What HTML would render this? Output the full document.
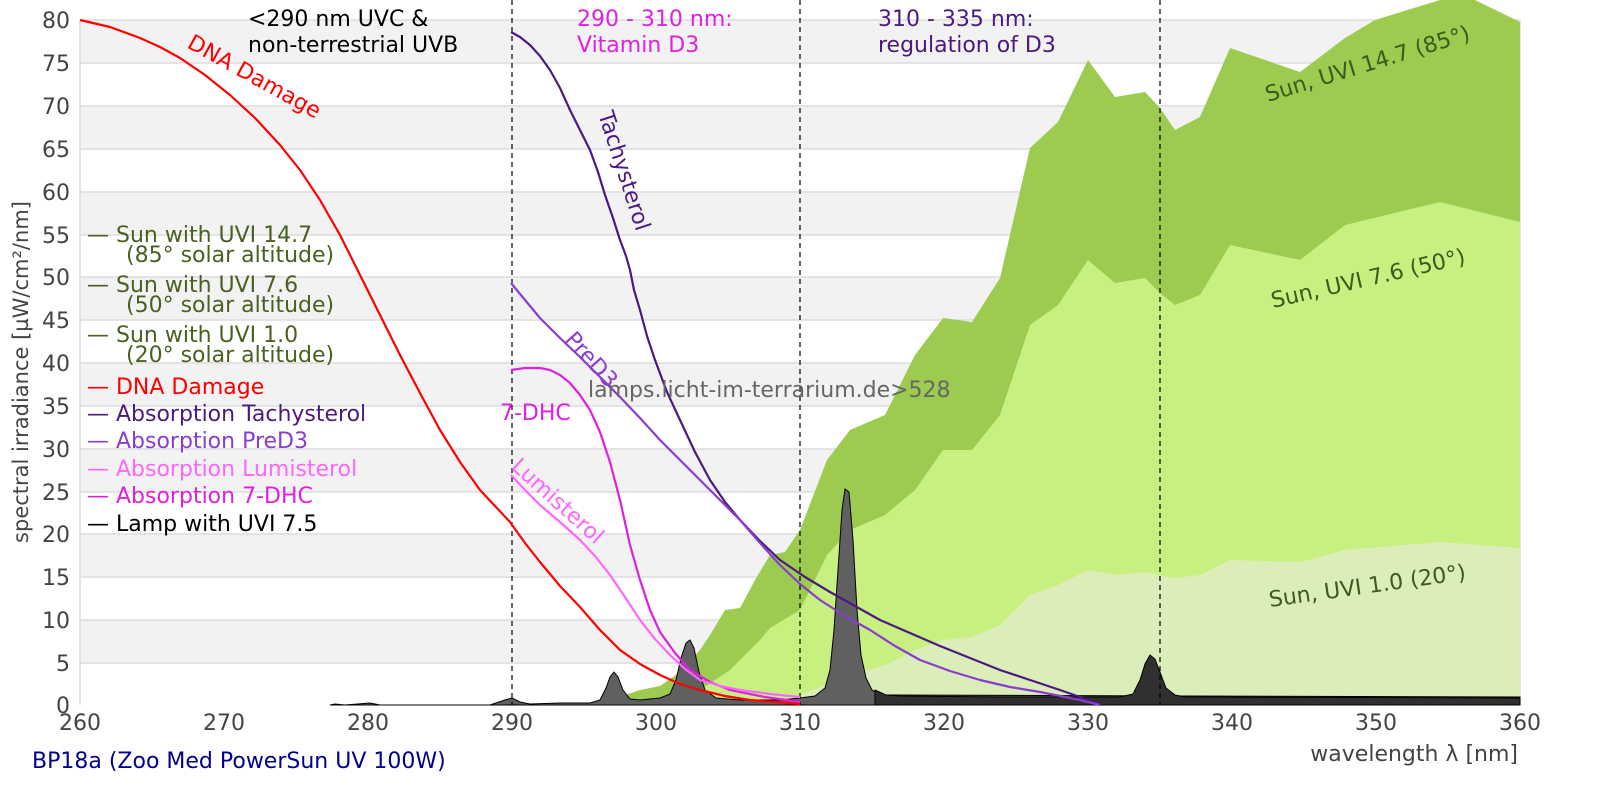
<!DOCTYPE html>
<html><head><meta charset="utf-8"><style>
body{margin:0;background:#fff}
svg{display:block;font-family:"DejaVu Sans","Liberation Sans",sans-serif}
</style></head><body>
<svg width="1600" height="800" viewBox="0 0 1600 800" xmlns="http://www.w3.org/2000/svg">
<rect width="1600" height="800" fill="#fff"/>
<g fill="#f2f2f2">
<rect x="80" y="20" width="1440" height="43"/>
<rect x="80" y="106" width="1440" height="43"/>
<rect x="80" y="192" width="1440" height="43"/>
<rect x="80" y="277" width="1440" height="43"/>
<rect x="80" y="363" width="1440" height="43"/>
<rect x="80" y="449" width="1440" height="43"/>
<rect x="80" y="534" width="1440" height="43"/>
<rect x="80" y="620" width="1440" height="43"/>
</g>
<g stroke="#dcdcdc" stroke-width="1.5">
<line x1="80" x2="1520" y1="20" y2="20"/><line x1="80" x2="1520" y1="63" y2="63"/><line x1="80" x2="1520" y1="106" y2="106"/><line x1="80" x2="1520" y1="149" y2="149"/><line x1="80" x2="1520" y1="192" y2="192"/><line x1="80" x2="1520" y1="235" y2="235"/><line x1="80" x2="1520" y1="277" y2="277"/><line x1="80" x2="1520" y1="320" y2="320"/><line x1="80" x2="1520" y1="363" y2="363"/><line x1="80" x2="1520" y1="406" y2="406"/><line x1="80" x2="1520" y1="449" y2="449"/><line x1="80" x2="1520" y1="492" y2="492"/><line x1="80" x2="1520" y1="534" y2="534"/><line x1="80" x2="1520" y1="577" y2="577"/><line x1="80" x2="1520" y1="620" y2="620"/><line x1="80" x2="1520" y1="663" y2="663"/>
<line x1="80" x2="80" y1="20" y2="705"/><line x1="1520" x2="1520" y1="20" y2="705"/>
</g>
<path fill="#9ccb50" d="M600,705 L610,700 640,690 660,686 680,672 700,650 710,635 725,610 740,608 755,580 770,555 785,552 800,530 827,460 850,430 885,415 915,355 943,318 972,322 1000,278 1030,148 1058,122 1088,60 1115,97 1145,92 1160,108 1175,130 1200,117 1230,48 1300,72 1345,38 1375,20 1440,0 1475,0 1520,22 L1520,705 Z"/>
<path fill="#c8f080" d="M680,705 L700,690 730,670 760,640 770,628 800,610 827,555 850,530 885,515 915,490 943,450 972,450 1000,415 1030,325 1058,305 1088,260 1115,283 1145,278 1160,293 1175,305 1200,295 1230,245 1300,260 1345,225 1440,202 1520,222 L1520,705 Z"/>
<path fill="#dbedb9" d="M760,705 L800,695 850,675 885,665 915,650 943,640 972,637 1000,625 1030,595 1058,585 1088,570 1115,575 1145,572 1175,578 1200,575 1230,560 1300,562 1345,550 1440,542 1520,548 L1520,705 Z"/>
<path fill="#606060" stroke="#000" stroke-width="1" d="M330,705 L335,704 345,705 370,703 380,705 490,705 505,700 512,698 520,702 530,704 560,703 590,703 600,700 606,688 610,677 614,672 618,677 623,690 630,699 640,700 660,698 670,694 676,680 681,658 686,643 690,640 694,648 699,672 705,690 716,698 740,700 780,700 800,698 815,696 825,688 830,670 834,630 838,570 842,510 845,489 849,492 853,540 857,610 861,655 866,678 872,690 880,695 1520,697 L1520,705 Z"/>
<path fill="#303030" stroke="#000" stroke-width="1" d="M875,705 L875,690 886,695 900,696 1000,697 1120,697 1133,694 1140,680 1145,664 1150,655 1155,659 1160,672 1166,688 1175,695 1185,697 1520,698 L1520,705 Z"/>
<g stroke="#000" stroke-width="1.2" stroke-dasharray="5,4">
<line x1="512" x2="512" y1="0" y2="705"/><line x1="800" x2="800" y1="0" y2="705"/><line x1="1160" x2="1160" y1="0" y2="705"/>
</g>
<g fill="none" stroke-width="2.2" stroke-linejoin="round">
<path stroke="#ff0000" d="M80,20 L110,27 140,38 160,47 180,58 205,75 230,95 255,118 280,145 300,170 320,200 340,235 360,275 380,315 400,355 420,393 440,430 460,462 480,490 495,506 510,522 525,543 540,562 560,586 580,607 600,630 620,650 640,664 660,675 680,684 700,690 725,696 750,700 775,702 800,704"/>
<path stroke="#4b1a80" d="M511,32 L520,37 530,45 540,56 550,70 560,88 570,110 580,130 590,150 598,172 605,195 613,218 620,240 626,256 630,270 634,290 640,310 647,336 655,360 667,392 680,420 695,452 710,480 725,502 740,520 760,541 780,560 805,577 830,592 855,606 880,620 910,633 940,646 970,658 1000,670 1030,680 1060,690 1080,697 1100,705"/>
<path stroke="#8a3ccc" d="M511,283 L525,300 540,318 560,338 580,357 600,377 620,397 640,418 660,440 680,460 700,480 720,500 740,520 760,543 780,565 800,584 820,600 845,616 870,630 895,646 920,660 950,671 980,680 1010,687 1040,692 1060,696 1080,700 1100,705"/>
<path stroke="#e020e0" d="M511,370 L525,368 540,368 550,370 560,375 570,383 580,395 590,410 600,432 610,462 620,500 630,545 640,580 650,610 660,632 675,653 690,670 710,682 730,690 765,697 800,702"/>
<path stroke="#ff66ff" d="M511,475 L525,490 540,505 560,522 580,540 595,556 610,575 625,597 640,620 655,639 670,655 685,669 700,680 720,686 740,690 770,694 800,697"/>
</g>
<g fill="#444" font-size="22" text-anchor="end">
<text x="70" y="28">80</text><text x="70" y="71">75</text><text x="70" y="114">70</text><text x="70" y="157">65</text><text x="70" y="200">60</text><text x="70" y="243">55</text><text x="70" y="285">50</text><text x="70" y="328">45</text><text x="70" y="371">40</text><text x="70" y="414">35</text><text x="70" y="457">30</text><text x="70" y="500">25</text><text x="70" y="542">20</text><text x="70" y="585">15</text><text x="70" y="628">10</text><text x="70" y="671">5</text><text x="70" y="713">0</text>
</g>
<g fill="#444" font-size="22" text-anchor="middle">
<text x="80" y="730">260</text><text x="224" y="730">270</text><text x="368" y="730">280</text><text x="512" y="730">290</text><text x="656" y="730">300</text><text x="800" y="730">310</text><text x="944" y="730">320</text><text x="1088" y="730">330</text><text x="1232" y="730">340</text><text x="1376" y="730">350</text><text x="1520" y="730">360</text>
</g>
<text x="28" y="372" transform="rotate(-90 28 372)" fill="#444" font-size="21" text-anchor="middle">spectral irradiance [µW/cm²/nm]</text>
<text x="1518" y="761" fill="#444" font-size="22" text-anchor="end">wavelength λ [nm]</text>
<text x="32" y="768" fill="#00008b" font-size="22">BP18a (Zoo Med PowerSun UV 100W)</text>
<g font-size="22">
<text x="248" y="26" fill="#000">&lt;290 nm UVC &amp;</text><text x="248" y="52" fill="#000">non-terrestrial UVB</text>
<text x="577" y="26" fill="#e020e0">290 - 310 nm:</text><text x="577" y="52" fill="#e020e0">Vitamin D3</text>
<text x="878" y="26" fill="#4b1a80">310 - 335 nm:</text><text x="878" y="52" fill="#4b1a80">regulation of D3</text>
<text x="588" y="397" fill="#666">lamps.licht-im-terrarium.de&gt;528</text>
<text x="500" y="420" fill="#e020e0">7-DHC</text>
<text transform="translate(186,47) rotate(29)" fill="#ff0000">DNA Damage</text>
<text transform="translate(598,114) rotate(72)" fill="#4b1a80">Tachysterol</text>
<text transform="translate(564,340) rotate(48)" fill="#8a3ccc">PreD3</text>
<text transform="translate(510,468) rotate(42)" fill="#ff66ff">Lumisterol</text>
<text transform="translate(1268,102) rotate(-17)" fill="#3d5a1a">Sun, UVI 14.7 (85°)</text>
<text transform="translate(1273,308) rotate(-13)" fill="#3d5a1a">Sun, UVI 7.6 (50°)</text>
<text transform="translate(1270,607) rotate(-8)" fill="#3d5a1a">Sun, UVI 1.0 (20°)</text>
</g>
<g font-size="22">
<g fill="#4a6020"><text x="87" y="242">— Sun with UVI 14.7</text><text x="126" y="262">(85° solar altitude)</text>
<text x="87" y="292">— Sun with UVI 7.6</text><text x="126" y="312">(50° solar altitude)</text>
<text x="87" y="342">— Sun with UVI 1.0</text><text x="126" y="362">(20° solar altitude)</text></g>
<text x="87" y="394" fill="#ff0000">— DNA Damage</text>
<text x="87" y="421" fill="#4b1a80">— Absorption Tachysterol</text>
<text x="87" y="448" fill="#8a3ccc">— Absorption PreD3</text>
<text x="87" y="476" fill="#ff66ff">— Absorption Lumisterol</text>
<text x="87" y="503" fill="#e020e0">— Absorption 7-DHC</text>
<text x="87" y="531" fill="#000">— Lamp with UVI 7.5</text>
</g>
</svg>
</body></html>
